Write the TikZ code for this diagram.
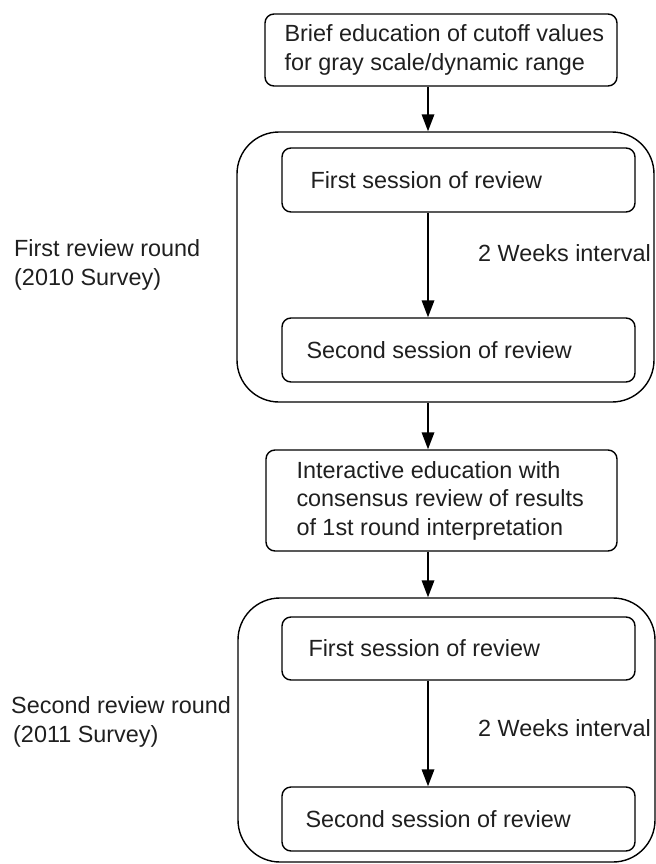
\documentclass[tikz,border=0pt]{standalone}
\usepackage{fontspec}
\setmainfont{Liberation Sans}
\usetikzlibrary{arrows.meta}
\begin{document}
\begin{tikzpicture}[x=1bp,y=-1bp,
  every node/.style={font=\fontsize{23.4bp}{28.5bp}\selectfont, text=black!88},
  box/.style={draw, line width=1.4bp, rounded corners=9bp, inner sep=0pt},
  outer/.style={draw, line width=1.4bp, rounded corners=42bp, inner sep=0pt},
  txt/.style={anchor=west, align=left, inner sep=0pt},
  arr/.style={line width=1.8bp, -{Triangle[length=17bp,width=12.5bp]}}]
\useasboundingbox (0,0) rectangle (656,864);
\coordinate (ax) at (428,0);
% top box
\node[box, minimum width=352bp, minimum height=72bp] (b1) at (441,50) {};
\node[txt] (t1) at ([xshift=20bp]b1.west) {Brief education of cutoff values\\for gray scale/dynamic range};
% first round
\node[outer, minimum width=417bp, minimum height=270bp] (o1) at (445.5,267) {};
\node[box, minimum width=353bp, minimum height=64bp] (f1) at (458.5,180) {};
\node[txt] (tf1) at ([xshift=29bp]f1.west) {First session of review};
\node[box, minimum width=353bp, minimum height=64bp] (s1) at (458.5,350) {};
\node[txt] (ts1) at ([xshift=25bp]s1.west) {Second session of review};
\node[txt] (w1) at (478,253) {2 Weeks interval};
\node[txt] (l1) at (14,265) {First review round\\(2010 Survey)};
% middle box
\node[box, minimum width=351bp, minimum height=101bp] (b3) at (441.5,500.5) {};
\node[txt] (t3) at ([xshift=31bp]b3.west) {Interactive education with\\consensus review of results\\of 1st round interpretation};
% second round
\node[outer, minimum width=417bp, minimum height=264bp] (o2) at (446.5,730) {};
\node[box, minimum width=353bp, minimum height=63bp] (f2) at (458.5,648.5) {};
\node[txt] (tf2) at ([xshift=27bp]f2.west) {First session of review};
\node[box, minimum width=353bp, minimum height=64bp] (s2) at (458.5,819) {};
\node[txt] (ts2) at ([xshift=24bp]s2.west) {Second session of review};
\node[txt] (w2) at (478,728) {2 Weeks interval};
\node[txt] (l2) at (11,722) {Second review round\\\hspace*{2bp}(2011 Survey)};
% arrows
\draw[arr] (b1.south -| ax) -- (o1.north -| ax);
\draw[arr] (f1.south -| ax) -- (s1.north -| ax);
\draw[arr] (o1.south -| ax) -- (b3.north -| ax);
\draw[arr] (b3.south -| ax) -- (o2.north -| ax);
\draw[arr] (f2.south -| ax) -- (s2.north -| ax);
\end{tikzpicture}
\end{document}
